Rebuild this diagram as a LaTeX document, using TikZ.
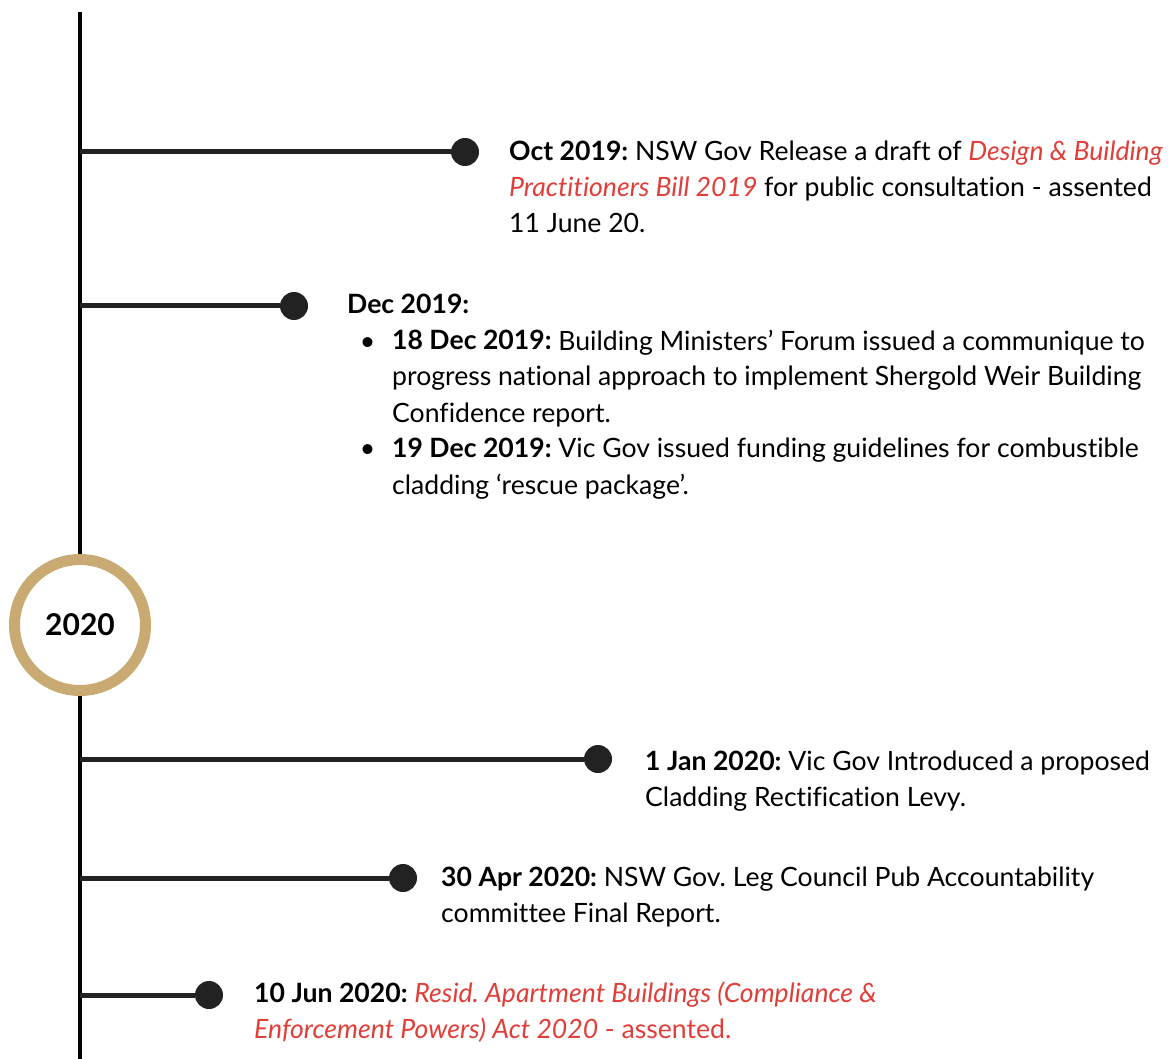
\documentclass[tikz,border=0pt]{standalone}
\usepackage{fontspec}
\setmainfont{Lato}[Ligatures=NoCommon]

\definecolor{ringgold}{RGB}{200,170,114}
\definecolor{billred}{RGB}{224,62,56}
\definecolor{ink}{RGB}{34,34,34}

% one text block: first line's baseline sits on the node's base anchor
\newcommand\evblock[1]{\parbox[t]{900pt}{\fontsize{26.6}{36}\selectfont\frenchspacing\raggedright #1}}
\newcommand\evbullet{\leavevmode\llap{\textbullet\hspace{17pt}}}
\newcommand\billtitle[1]{\textcolor{billred}{\itshape #1}}

\begin{document}
\begin{tikzpicture}[x=1pt,y=-1pt,
  spine/.style={line width=4pt, draw=black},
  branch/.style={line width=5pt, draw=ink},
  dotend/.style={circle, fill=ink, minimum size=28pt, inner sep=0pt},
  entry/.style={anchor=base west, inner sep=0pt, text=black},
  yearring/.style={circle, draw=ringgold, line width=11pt, fill=white,
    minimum size=131pt, inner sep=0pt,
    font=\fontsize{30}{32}\selectfont\bfseries}]

\useasboundingbox (0,0) rectangle (1170,1059);

% timeline spine
\coordinate (top) at (80,12);
\coordinate (bottom) at (80,1059);
\draw[spine] (top) -- (bottom);

% year marker
\node[yearring] (y2020) at (80,625) {2020};

% branch points on the spine
\coordinate (s1) at (80,152);
\coordinate (s2) at (80,306);
\coordinate (s3) at (80,759);
\coordinate (s4) at (80,878);
\coordinate (s5) at (80,995);

% end dots
\node[dotend] (d1) at (465,152) {};
\node[dotend] (d2) at (294,306) {};
\node[dotend] (d3) at (598,759) {};
\node[dotend] (d4) at (403,878) {};
\node[dotend] (d5) at (209,995) {};

\foreach \i in {1,...,5} \draw[branch] (s\i) -- (d\i);

% event texts
\node[entry] (t1) at (509,161) {\evblock{%
  \textbf{Oct 2019:} NSW Gov Release a draft of \billtitle{Design \& Building}\\
  \billtitle{Practitioners Bill 2019} for public consultation - assented\\
  11 June 20.}};

\node[entry] (t2) at (347,314) {\evblock{%
  \textbf{Dec 2019:}\par
  \leftskip=45pt
  \evbullet\textbf{18 Dec 2019:} Building Ministers’ Forum issued a communique to\\
  progress national approach to implement Shergold Weir Building\\
  Confidence report.\par
  \evbullet\textbf{19 Dec 2019:} Vic Gov issued funding guidelines for combustible\\
  cladding ‘rescue package’.}};

\node[entry] (t3) at (645,770) {\evblock{%
  \textbf{1 Jan 2020:} Vic Gov Introduced a proposed\\
  Cladding Rectification Levy.}};

\node[entry] (t4) at (441,886) {\evblock{%
  \textbf{30 Apr 2020:} NSW Gov. Leg Council Pub Accountability\\
  committee Final Report.}};

\node[entry] (t5) at (254,1002) {\evblock{%
  \textbf{10 Jun 2020:} \billtitle{Resid. Apartment Buildings (Compliance \&}\\
  \textcolor{billred}{\itshape Enforcement Powers) Act 2020\upshape{} - assented.}}};

\end{tikzpicture}
\end{document}
